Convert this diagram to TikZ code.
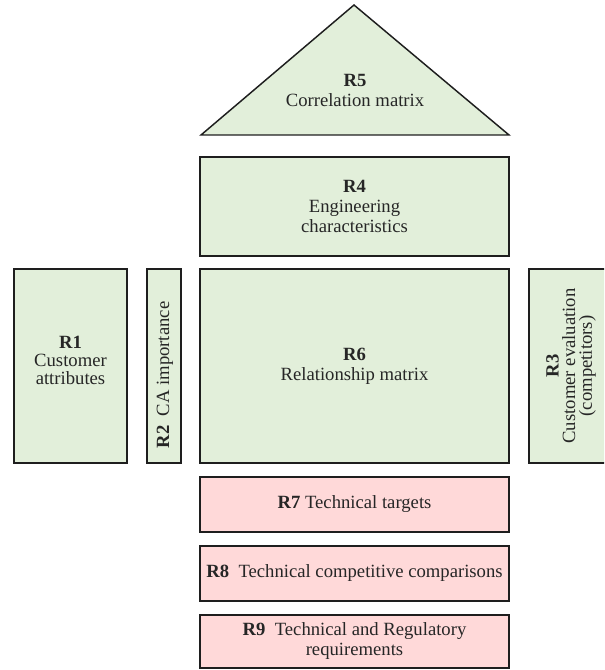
\documentclass[tikz,border=0pt]{standalone}
\usepackage{fontspec}
\setmainfont{Liberation Serif}
\definecolor{gfill}{HTML}{E2EFDA}
\definecolor{pfill}{HTML}{FFD9D9}
\definecolor{edge}{HTML}{1E1E1E}
\begin{document}
\begin{tikzpicture}[x=0.75pt,y=-0.75pt,
  box/.style={draw=edge,line width=1.1pt,inner sep=0pt,align=center,
    font=\fontsize{14}{15}\selectfont,text=black!85},
  gbox/.style={box,fill=gfill},
  pbox/.style={box,fill=pfill},
  lbl/.style={inner sep=0pt,align=center,text=black!85}]
\useasboundingbox (0,0) rectangle (604,670);
\clip (0,0) rectangle (604,670);
% roof
\draw[draw=edge,line width=1.1pt,fill=gfill,line join=miter] (354,5) -- (509,135) -- (201,135) -- cycle;
\node[lbl,font=\fontsize{14}{15}\selectfont] (r5) at (355,90) {\textbf{R5}\\Correlation matrix};
% R4
\node[gbox,minimum width=231.75pt,minimum height=74.25pt] (r4) at (354.5,206.5) {\textbf{R4}\\Engineering\\characteristics};
% R6
\node[gbox,minimum width=231.75pt,minimum height=145.5pt] (r6) at (354.5,366) {\textbf{R6}\\Relationship matrix};
% R1
\node[gbox,minimum width=84.75pt,minimum height=145.5pt] (r1) at (70.5,366) {};
\node[lbl,font=\fontsize{14}{13.5}\selectfont] (r1t) at (70.5,360) {\textbf{R1}\\Customer\\attributes};
% R2
\node[gbox,minimum width=25.5pt,minimum height=145.5pt] (r2) at (164,366) {};
\node[lbl,rotate=90,font=\fontsize{14}{15}\selectfont] (r2t) at (165,375) {\textbf{R2}\ \ CA importance};
% R3
\node[gbox,minimum width=61.5pt,minimum height=145.5pt] (r3) at (570,366) {};
\node[lbl,rotate=90,font=\fontsize{14}{12.5}\selectfont] (r3t) at (571,366) {\textbf{R3}\\Customer evaluation\\(competitors)};
% R7-R9
\node[pbox,minimum width=231.75pt,minimum height=41.25pt] (r7) at (354.5,504.5) {\textbf{R7} Technical targets};
\node[pbox,minimum width=231.75pt,minimum height=41.25pt] (r8) at (354.5,573.5) {\textbf{R8}\ \ Technical competitive comparisons};
\node[pbox,minimum width=231.75pt,minimum height=39.75pt] (r9) at (354.5,641.5) {\textbf{R9}\ \ Technical and Regulatory\\requirements};
\end{tikzpicture}
\end{document}
